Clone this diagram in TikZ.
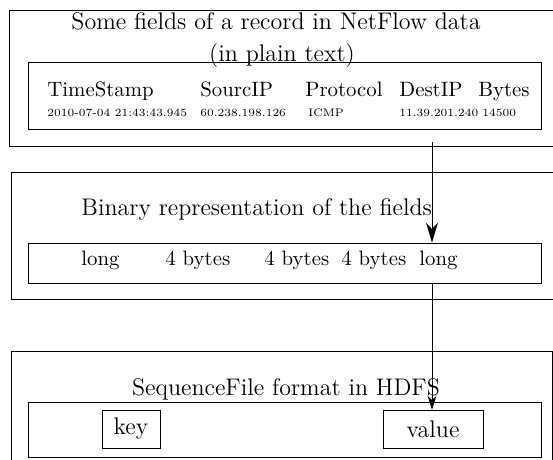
\documentclass[tikz,border=0pt]{standalone}
\usetikzlibrary{arrows.meta}

\begin{document}
\begin{tikzpicture}[x=0.5pt,y=-0.5pt,every node/.style={inner sep=0pt},box/.style={draw,shape=rectangle},field/.style={anchor=base west,font=\fontsize{10.4}{12}\selectfont},val/.style={anchor=base west,font=\fontsize{5.5}{7}\selectfont},head/.style={font=\large},flow/.style={-{Stealth[length=7pt,width=4.5pt]}},bigflow/.style={-{Stealth[length=10pt,width=6pt]}}]
\clip (0,0) rectangle (553,460);
\node[box,minimum width=315.5pt,minimum height=68pt] (plain) at (324.5,78) {};
\node[box,minimum width=256.5pt,minimum height=33.5pt] (plainrow) at (284.5,95.5) {};
\node[head,anchor=base] (plaintitle) at (276,30) {Some fields of a record in NetFlow data};
\node[head,anchor=base] (plainnote) at (282,62) {(in plain text)};
\node[field] (ts) at (47,97) {TimeStamp};
\node[field] (src) at (200,97) {SourcIP};
\node[field] (proto) at (305,97) {Protocol};
\node[field] (dst) at (399,97) {DestIP};
\node[field] (bytes) at (478,97) {Bytes};
\node[val] (tsval) at (47,117) {2010-07-04 21:43:43.945};
\node[val] (srcval) at (200,117) {60.238.198.126};
\node[val] (protoval) at (308,117) {ICMP};
\node[val] (dstval) at (399,117) {11.39.201.240};
\node[val] (bytesval) at (482,117) {14500};
\node[box,minimum width=314.5pt,minimum height=63.5pt] (binary) at (325.5,235.5) {};
\node[box,minimum width=256.5pt,minimum height=20pt] (binrow) at (284.5,263) {};
\node[head,anchor=base west] (bintitle) at (81,216) {Binary representation of the fields};
\node[field] (b1) at (81,266) {long};
\node[field] (b2) at (165,266) {4 bytes};
\node[field] (b3) at (264,266) {4 bytes};
\node[field] (b4) at (341,266) {4 bytes};
\node[field] (b5) at (419,266) {long};
\node[box,minimum width=270.5pt,minimum height=69.5pt] (seq) at (281.5,420.5) {};
\node[box,minimum width=256.5pt,minimum height=27.5pt] (seqrow) at (284.5,429.5) {};
\node[head,anchor=base] (seqtitle) at (286,396) {SequenceFile format in HDFS};
\node[box,head,minimum width=29pt,minimum height=19pt] (key) at (131,429) {key};
\node[box,head,minimum width=50pt,minimum height=19pt] (value) at (433,429) {value};
\coordinate (tap) at (432,142);
\draw[bigflow] (tap) -- (tap |- binrow.north);
\draw[flow] (tap |- binrow.south) -- (tap |- value.north);
\end{tikzpicture}
\end{document}
